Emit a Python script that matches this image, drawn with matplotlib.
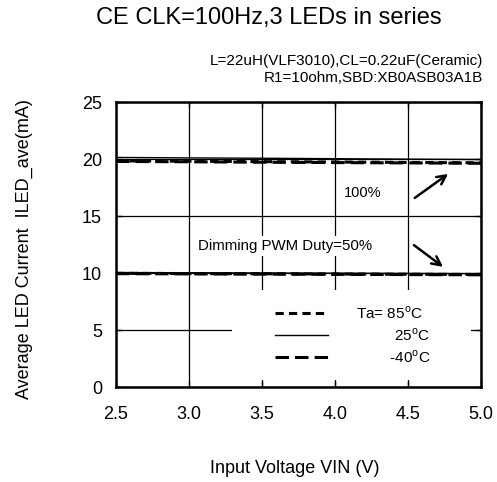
import matplotlib.pyplot as plt
import matplotlib.patches as mpatches

plt.rcParams['font.family'] = ['Liberation Sans', 'DejaVu Sans']
plt.rcParams['mathtext.fontset'] = 'custom'
plt.rcParams['mathtext.rm'] = 'Liberation Sans'

vin = [2.5, 3.0, 3.5, 4.0, 4.5, 5.0]

# duty 100%
i100_85 = [19.85, 19.82, 19.78, 19.75, 19.71, 19.68]
i100_25 = [20.15, 20.11, 20.08, 20.04, 20.00, 19.97]
i100_m40 = [19.80, 19.77, 19.73, 19.70, 19.67, 19.64]
# duty 50%
i50_85 = [9.98, 9.96, 9.94, 9.92, 9.90, 9.88]
i50_25 = [10.05, 10.03, 10.01, 9.99, 9.97, 9.95]
i50_m40 = [9.95, 9.93, 9.91, 9.89, 9.87, 9.85]

xticks = [2.5, 3.0, 3.5, 4.0, 4.5, 5.0]
yticks = [0, 5, 10, 15, 20, 25]

fig = plt.figure(figsize=(4.97, 4.82), dpi=100)
ax = fig.add_axes([0.2334, 0.197, 0.7346, 0.591])

st85 = dict(color='black', lw=2.2, dashes=(2.7, 1.7))
st25 = dict(color='black', lw=1.0, linestyle='-')
stm40 = dict(color='black', lw=2.2, dashes=(4.4, 2.0))

ax.plot(vin, i100_85, **st85)
ax.plot(vin, i100_m40, **stm40)
ax.plot(vin, i100_25, **st25)
ax.plot(vin, i50_85, **st85)
ax.plot(vin, i50_m40, **stm40)
ax.plot(vin, i50_25, **st25)

ax.set_xlim(2.5, 5.0)
ax.set_ylim(0, 25)
ax.set_xticks(xticks)
ax.set_xticklabels(['%.1f' % v for v in xticks])
ax.set_yticks(yticks)
ax.grid(True, color='black', lw=0.9)
ax.tick_params(direction='in', length=4.5, width=1, labelsize=13,
               top=True, right=True, labeltop=False, labelright=False)
ax.tick_params(axis='x', pad=14)
ax.tick_params(axis='y', pad=10)
for s in ax.spines.values():
    s.set_linewidth(1.8)

# white box behind the legend hides the grid
ax.add_patch(mpatches.Rectangle((0.317, 0.025), 0.655, 0.315, transform=ax.transAxes,
                                facecolor='white', edgecolor='none', zorder=1.8))

h85, = ax.plot([], [], **st85)
h25, = ax.plot([], [], **st25)
hm40, = ax.plot([], [], **stm40)
labels = ['Ta= 85$^\\mathrm{o}$C',
          '$\\hspace{2.585}$25$^\\mathrm{o}$C',
          '$\\hspace{2.252}$-40$^\\mathrm{o}$C']
leg = ax.legend([h85, h25, hm40], labels, loc='upper right',
                bbox_to_anchor=(0.86, 0.29), frameon=False, borderpad=0, borderaxespad=0,
                fontsize=11, handlelength=3.5, labelspacing=0.35, handletextpad=1.8)

ax.text(4.19, 17.0, '100%', fontsize=10.5, ha='center', va='center')
ax.text(3.66, 12.35, 'Dimming PWM Duty=50%', fontsize=10.8, ha='center', va='center',
        bbox=dict(facecolor='white', edgecolor='none', pad=2))
ax.annotate('', xy=(4.79, 18.85), xytext=(4.53, 16.45),
            arrowprops=dict(arrowstyle='->', lw=1.8, color='black', mutation_scale=16))
ax.annotate('', xy=(4.755, 10.4), xytext=(4.525, 12.6),
            arrowprops=dict(arrowstyle='->', lw=1.8, color='black', mutation_scale=16))

ax.set_xlabel('Input Voltage VIN (V)', fontsize=13)
ax.set_ylabel('Average LED Current  ILED_ave(mA)', fontsize=13)
ax.xaxis.set_label_coords(0.49, -0.255)
ax.yaxis.set_label_coords(-0.226, 0.485)

fig.text(0.540, 0.962, 'CE CLK=100Hz,3 LEDs in series', fontsize=17, ha='center', va='center')
fig.text(0.972, 0.873, 'L=22uH(VLF3010),CL=0.22uF(Ceramic)', fontsize=11, ha='right', va='center')
fig.text(0.972, 0.839, 'R1=10ohm,SBD:XB0ASB03A1B', fontsize=11, ha='right', va='center')

fig.savefig('out.png', dpi=100)
